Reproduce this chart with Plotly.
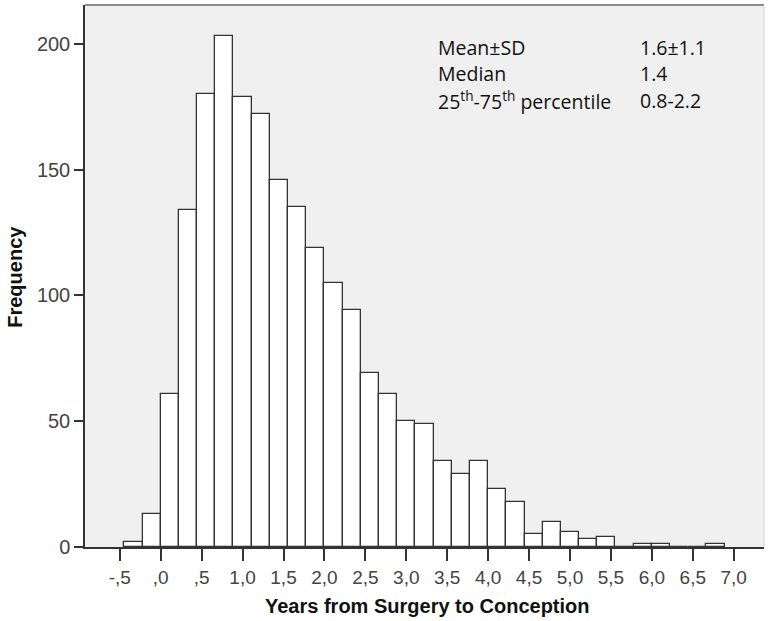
import plotly.graph_objects as go

# Histogram data: years from surgery to conception (bin width ~ 2/9 year)
BIN_WIDTH = 2 / 9
FIRST_BIN_INDEX = -2  # first bin starts at -2 * BIN_WIDTH
counts = [2, 13, 61, 134, 180, 203, 179, 172, 146, 135, 119, 105, 94, 69, 61,
          50, 49, 34, 29, 34, 23, 18, 5, 10, 6, 3, 4, 0, 1, 1, 0, 0, 1]

tick_values = [-0.5, 0.0, 0.5, 1.0, 1.5, 2.0, 2.5, 3.0, 3.5, 4.0, 4.5, 5.0, 5.5, 6.0, 6.5, 7.0]
tick_labels = ["-,5", ",0", ",5", "1,0", "1,5", "2,0", "2,5", "3,0", "3,5", "4,0",
               "4,5", "5,0", "5,5", "6,0", "6,5", "7,0"]
y_tick_values = [0, 50, 100, 150, 200]

stat_labels = ["Mean±SD", "Median", "25<sup>th</sup>-75<sup>th</sup> percentile"]
stat_values = ["1.6±1.1", "1.4", "0.8-2.2"]

centers = [(FIRST_BIN_INDEX + i + 0.5) * BIN_WIDTH for i in range(len(counts))]

fig = go.Figure()
fig.add_trace(go.Bar(
    x=centers, y=counts, width=BIN_WIDTH,
    marker=dict(color="white", line=dict(color="#333333", width=1.3)),
    hoverinfo="x+y",
))

W, H = 768, 621
ml, mr, mt, mb = 85, 4, 5, 73.5
pw, ph = W - ml - mr, H - mt - mb

def px(x):
    return (x - ml) / pw

def py(y):
    return (H - mb - y) / ph

fig.update_layout(
    width=W, height=H,
    margin=dict(l=ml, r=mr, t=mt, b=mb),
    paper_bgcolor="white",
    plot_bgcolor="#f0f0f0",
    showlegend=False,
    bargap=0,
    font=dict(family="Liberation Sans, Arial, sans-serif", color="#444444"),
    xaxis=dict(
        range=[-0.925, 7.37],
        tickmode="array", tickvals=tick_values, ticktext=tick_labels,
        ticks="outside", ticklen=12, tickwidth=1.5, tickcolor="#333333",
        tickfont=dict(size=19, color="#444444"),
        showgrid=False, zeroline=False,
        showline=True, linecolor="#333333", linewidth=1.5, mirror=False,
    ),
    yaxis=dict(
        range=[0, 215.4],
        tickmode="array", tickvals=y_tick_values,
        ticks="outside", ticklen=9, tickwidth=1.5, tickcolor="#333333",
        tickfont=dict(size=20, color="#444444"),
        showgrid=False, zeroline=False,
        showline=True, linecolor="#333333", linewidth=1.5, mirror=False,
    ),
)

# frame top/right
fig.add_shape(type="line", xref="paper", yref="paper", x0=0, x1=1, y0=1, y1=1,
              line=dict(color="#8a8a8a", width=2))
fig.add_shape(type="line", xref="paper", yref="paper", x0=1, x1=1, y0=0, y1=1,
              line=dict(color="#d0d0d0", width=1))

annots = []
row_y = [48, 73.5, 101]
for lab, val, yy in zip(stat_labels, stat_values, row_y):
    annots.append(dict(text=lab, xref="paper", yref="paper", x=px(436), y=py(yy),
                       xanchor="left", yanchor="middle", showarrow=False,
                       font=dict(family="Open Sans, sans-serif", size=19.5, color="#111111")))
    annots.append(dict(text=val, xref="paper", yref="paper", x=px(638), y=py(yy),
                       xanchor="left", yanchor="middle", showarrow=False,
                       font=dict(family="Open Sans, sans-serif", size=19.5, color="#111111")))

annots.append(dict(text="<b>Frequency</b>", xref="paper", yref="paper",
                   x=px(15), y=py(277), xanchor="center", yanchor="middle",
                   textangle=-90, showarrow=False,
                   font=dict(family="Liberation Sans, Arial, sans-serif", size=20, color="#111111")))
annots.append(dict(text="<b>Years from Surgery to Conception</b>", xref="paper", yref="paper",
                   x=px(427), y=py(607), xanchor="center", yanchor="middle",
                   showarrow=False,
                   font=dict(family="Liberation Sans, Arial, sans-serif", size=20, color="#111111")))
fig.update_layout(annotations=annots)

fig.write_html("out.html", config={"displayModeBar": False},
               post_script="document.body.style.margin='0';")
